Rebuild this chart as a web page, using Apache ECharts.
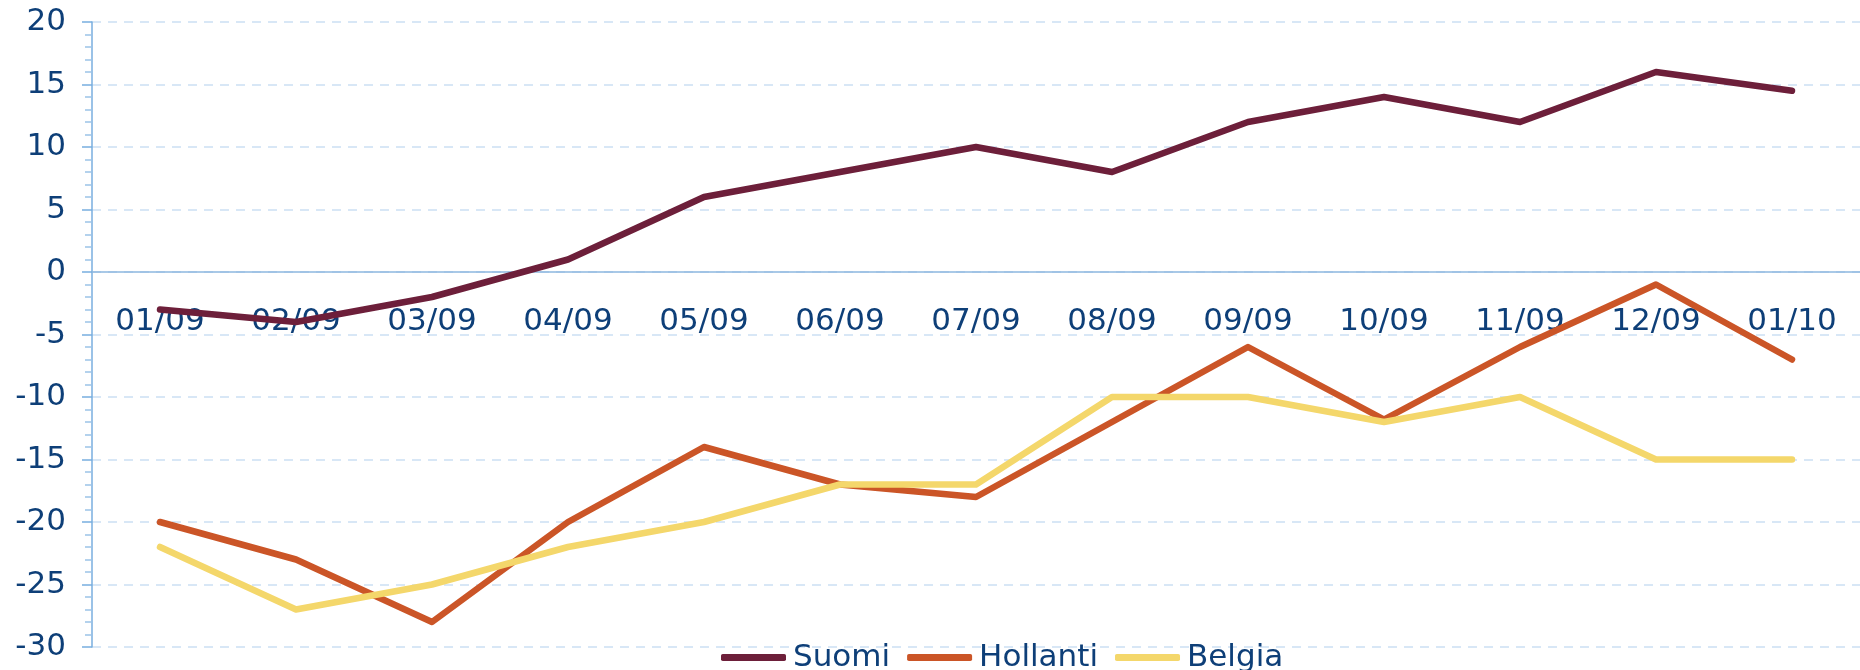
<!DOCTYPE html>
<html>
<head>
<meta charset="utf-8">
<script src="https://cdn.jsdelivr.net/npm/echarts@6/dist/echarts.min.js"></script>
<style>
html,body{margin:0;padding:0;background:#fff;}
#chart{width:1860px;height:670px;}
</style>
</head>
<body>
<div id="chart"></div>
<script>
const categories = ['01/09','02/09','03/09','04/09','05/09','06/09','07/09','08/09','09/09','10/09','11/09','12/09','01/10'];
const suomi    = [-3, -4, -2, 1, 6, 8, 10, 8, 12, 14, 12, 16, 14.5];
const hollanti = [-20, -23, -28, -20, -14, -17, -18, -12, -6, -11.8, -6, -1, -7];
const belgia   = [-22, -27, -25, -22, -20, -17, -17, -10, -10, -12, -10, -15, -15];
const seriesNames = ['Suomi', 'Hollanti', 'Belgia'];
const yTicks = [-30, -25, -20, -15, -10, -5, 0, 5, 10, 15, 20];

const textColor = '#0E3F78';
const font = 'DejaVu Sans';
const gridTop = 22, gridBottom = 23, chartH = 670;
const yMin = yTicks[0], yMax = yTicks[yTicks.length - 1];
const plotH = chartH - gridTop - gridBottom;
// distance from bottom of plot to the zero line (layout only)
const zeroOffset = plotH * (0 - yMin) / (yMax - yMin);

const chart = echarts.init(document.getElementById('chart'), null, {renderer: 'canvas'});

function lineSeries(name, data, color) {
  return {
    name: name, type: 'line', data: data,
    showSymbol: false, symbol: 'none',
    lineStyle: {color: color, width: 6.5, cap: 'round', join: 'round'},
    itemStyle: {color: color},
    animation: false
  };
}

chart.setOption({
  animation: false,
  backgroundColor: '#ffffff',
  grid: {left: 92, right: -5, top: gridTop, bottom: gridBottom, containLabel: false},
  legend: {
    data: seriesNames,
    left: 716, top: 637,
    itemWidth: 65, itemHeight: 7, itemGap: 17,
    icon: 'roundRect',
    textStyle: {color: textColor, fontFamily: font, fontSize: 31, lineHeight: 30, padding: [0, 0, 0, 2]}
  },
  xAxis: {
    type: 'category',
    data: categories,
    boundaryGap: true,
    position: 'bottom',
    offset: -zeroOffset,
    axisLine: {show: true, onZero: false, lineStyle: {color: '#8DB8E0', width: 1.5}},
    axisTick: {show: false},
    axisLabel: {color: textColor, fontFamily: font, fontSize: 31, margin: 34, interval: 0},
    splitLine: {show: false}
  },
  yAxis: {
    type: 'value',
    min: yMin, max: yMax, interval: 5,
    axisLine: {show: true, lineStyle: {color: '#78AEDF', width: 1.5}},
    axisTick: {show: true, inside: false, length: 10, lineStyle: {color: '#78AEDF', width: 1.5}},
    minorTick: {show: true, splitNumber: 5, length: 7, lineStyle: {color: '#9CC3E8', width: 1.5}},
    axisLabel: {color: textColor, fontFamily: font, fontSize: 31, margin: 26},
    splitLine: {show: true, lineStyle: {color: '#CCE0F3', width: 1.5, type: [9, 7]}}
  },
  series: [
    lineSeries(seriesNames[0], suomi, '#6D1F3A'),
    lineSeries(seriesNames[1], hollanti, '#CB5527'),
    lineSeries(seriesNames[2], belgia, '#F4D76B')
  ]
});
</script>
</body>
</html>
